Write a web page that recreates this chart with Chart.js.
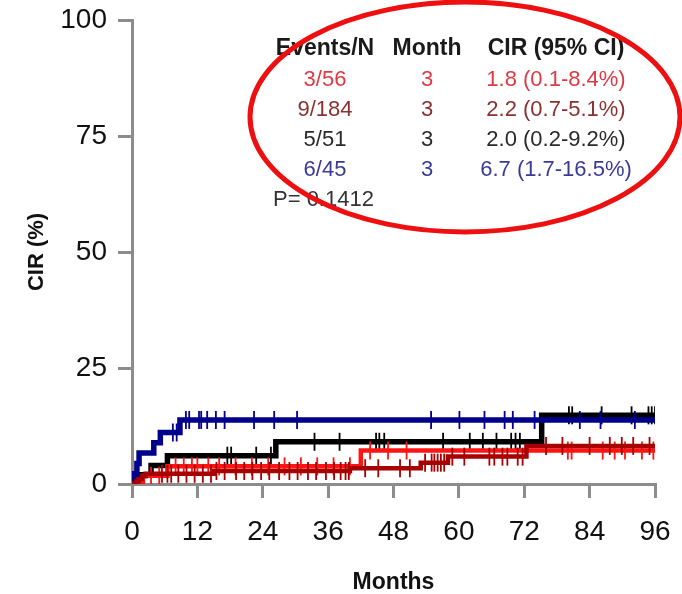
<!DOCTYPE html>
<html>
<head>
<meta charset="utf-8">
<script src="https://cdn.jsdelivr.net/npm/chart.js@4.4.1/dist/chart.umd.min.js"></script>
<style>
  html, body { margin: 0; padding: 0; background: #ffffff; }
  #wrap { width: 682px; height: 594px; }
</style>
</head>
<body>
<div id="wrap"><canvas id="c" width="682" height="594"></canvas></div>
<script>
// Cumulative incidence of relapse (CIR, %) per group: event times (months) and CIR after each step
const followUpEnd = 96;

const redTimes = [2.0, 6.5, 42.0];
const redCir = [1.8, 3.8, 7.2];
const redCensor = [3.5, 5.0, 8.0, 9.5, 11.0, 12.0, 14.0, 16.0, 19.0, 22.0, 25.0, 28.0, 31.0, 34.0,
  37.0, 40.0, 43.7, 47.0, 50.4, 80.0, 80.7, 86.4, 88.6, 90.5, 93.6, 95.7];

const darkRedTimes = [0.8, 1.2, 1.8, 2.5, 15.0, 40.0, 53.0, 58.0, 72.4];
const darkRedCir = [0.55, 1.1, 1.65, 2.2, 2.8, 3.4, 4.6, 5.9, 8.2];
const darkRedCensor = [5.5, 6.5, 7.2, 8.5, 10.0, 11.5, 13.0, 14.5, 15.5, 17.0, 19.1, 20.6, 22.1, 23.7,
  25.2, 27.0, 28.9, 30.4, 32.3, 33.8, 35.6, 37.1, 38.3, 39.2, 39.8, 42.8, 45.2, 49.2, 51.0, 53.8,
  55.0, 55.5, 56.1, 56.7, 57.3, 58.8, 61.0, 65.6, 66.5, 68.0, 68.9, 70.8, 71.7, 76.0, 79.0, 84.0,
  87.7, 89.9, 92.0, 95.0];

const blackTimes = [1.2, 3.5, 6.5, 26.4, 75.2];
const blackCir = [2.0, 4.0, 6.1, 9.1, 14.8];
const blackCensor = [17.5, 18.2, 22.8, 25.5, 33.5, 38.1, 44.8, 45.4, 46.3, 57.1, 62.0, 64.4, 66.9,
  69.6, 70.4, 71.2, 80.2, 80.8, 86.2, 91.7, 94.8, 95.4, 96.0];

const blueTimes = [0.5, 0.9, 1.3, 4.0, 5.2, 8.8];
const blueCir = [2.2, 4.4, 6.7, 8.9, 11.1, 13.8];
const blueCensor = [7.5, 8.2, 9.9, 10.5, 12.3, 12.7, 13.8, 15.4, 17.0, 22.4, 26.1, 30.3, 54.9, 60.1,
  64.7, 68.4, 69.9, 73.9, 82.2, 86.0, 92.3];

const xTicks = [0, 12, 24, 36, 48, 60, 72, 84, 96];
const yTicks = [0, 25, 50, 75, 100];

// Summary table shown in the upper right
const tableHeader = ['Events/N', 'Month', 'CIR (95% CI)'];
const eventsN = ['3/56', '9/184', '5/51', '6/45'];
const landmarkMonth = ['3', '3', '3', '3'];
const cirText = ['1.8 (0.1-8.4%)', '2.2 (0.7-5.1%)', '2.0 (0.2-9.2%)', '6.7 (1.7-16.5%)'];
const pValueText = 'P= 0.1412';

const lineColors = { red: '#ff1414', darkRed: '#a80000', black: '#000000', blue: '#00008c' };
const rowColors = ['#dd3a44', '#8a3030', '#2a2a2a', '#3a3a98'];

function stepSeries(times, values, end) {
  const pts = [{ x: 0, y: 0 }];
  times.forEach((t, i) => pts.push({ x: t, y: values[i] }));
  pts.push({ x: end, y: values[values.length - 1] });
  return pts;
}
function valueAt(times, values, t) {
  let v = 0;
  times.forEach((tt, i) => { if (tt <= t) v = values[i]; });
  return v;
}
function censorPoints(times, values, censor) {
  return censor.map(t => ({ x: t, y: valueAt(times, values, t) }));
}

// horizontal run first, then the jump at each event time
function curve(label, times, values, color, width) {
  return {
    label, data: stepSeries(times, values, followUpEnd), showLine: true, stepped: 'before',
    borderColor: color, borderWidth: width, pointRadius: 0, fill: false,
    borderCapStyle: 'butt', borderJoinStyle: 'miter'
  };
}
function ticks(label, times, values, censor, color) {
  return {
    label, data: censorPoints(times, values, censor), showLine: false,
    pointStyle: 'line', rotation: 90, pointRadius: 9, pointBorderWidth: 1.8,
    borderColor: color, backgroundColor: color
  };
}

const tablePlugin = {
  id: 'cirTable',
  afterDraw(chart) {
    const ctx = chart.ctx;
    const cols = [325, 427, 556];
    ctx.save();
    ctx.textAlign = 'center';
    ctx.textBaseline = 'alphabetic';
    ctx.font = 'bold 23px "Liberation Sans", Arial, sans-serif';
    ctx.fillStyle = '#1a1a1a';
    tableHeader.forEach((h, i) => ctx.fillText(h, cols[i], 55));
    ctx.font = '22px "Liberation Sans", Arial, sans-serif';
    eventsN.forEach((e, r) => {
      const y = 86 + r * 30;
      ctx.fillStyle = rowColors[r];
      ctx.fillText(e, cols[0], y);
      ctx.fillText(landmarkMonth[r], cols[1], y);
      ctx.fillText(cirText[r], cols[2], y);
    });
    ctx.textAlign = 'left';
    ctx.fillStyle = '#333333';
    ctx.fillText(pValueText, 273, 206);
    // highlight ring around the table
    ctx.beginPath();
    ctx.ellipse(465, 117, 215, 115, 0, 0, Math.PI * 2);
    ctx.lineWidth = 5;
    ctx.strokeStyle = '#ee1010';
    ctx.stroke();
    ctx.restore();
  }
};

const axisGray = '#8c8c8c';
new Chart(document.getElementById('c'), {
  type: 'scatter',
  data: {
    datasets: [
      curve('9/184', darkRedTimes, darkRedCir, lineColors.darkRed, 4.5),
      ticks('9/184 censored', darkRedTimes, darkRedCir, darkRedCensor, lineColors.darkRed),
      curve('3/56', redTimes, redCir, lineColors.red, 4.5),
      ticks('3/56 censored', redTimes, redCir, redCensor, lineColors.red),
      curve('6/45', blueTimes, blueCir, lineColors.blue, 5.5),
      ticks('6/45 censored', blueTimes, blueCir, blueCensor, lineColors.blue),
      curve('5/51', blackTimes, blackCir, lineColors.black, 5.5),
      ticks('5/51 censored', blackTimes, blackCir, blackCensor, lineColors.black)
    ]
  },
  options: {
    responsive: false,
    animation: false,
    devicePixelRatio: 1,
    layout: { padding: { top: 20, right: 27, left: 0, bottom: 0 } },
    plugins: { legend: { display: false }, tooltip: { enabled: false } },
    scales: {
      x: {
        type: 'linear', min: 0, max: 96,
        afterBuildTicks: s => { s.ticks = xTicks.map(v => ({ value: v })); },
        afterFit: s => { s.height = 110; s.paddingLeft = 0; s.paddingRight = 0; },
        grid: { display: true, drawOnChartArea: false, drawTicks: true, tickLength: 14,
                color: axisGray, lineWidth: 3 },
        border: { display: true, color: axisGray, width: 3 },
        ticks: { color: '#111111', padding: 17, maxRotation: 0,
                 font: { family: '"Liberation Sans", Arial, sans-serif', size: 28 } },
        title: { display: true, text: 'Months', color: '#111111',
                 font: { family: '"Liberation Sans", Arial, sans-serif', size: 23, weight: 'bold', lineHeight: 1 },
                 padding: { top: 0, bottom: 0 } }
      },
      y: {
        type: 'linear', min: 0, max: 100,
        afterBuildTicks: s => { s.ticks = yTicks.map(v => ({ value: v })); },
        afterFit: s => { s.width = 132; s.paddingTop = 0; s.paddingBottom = 0; },
        grid: { display: true, drawOnChartArea: false, drawTicks: true, tickLength: 14,
                color: axisGray, lineWidth: 3 },
        border: { display: true, color: axisGray, width: 3 },
        ticks: { color: '#111111', padding: 11,
                 font: { family: '"Liberation Sans", Arial, sans-serif', size: 28 } },
        title: { display: true, text: 'CIR (%)', color: '#111111',
                 font: { family: '"Liberation Sans", Arial, sans-serif', size: 22, weight: 'bold', lineHeight: 1.2 },
                 padding: { top: 24, bottom: 0 } }
      }
    }
  },
  plugins: [tablePlugin]
});
</script>
</body>
</html>
